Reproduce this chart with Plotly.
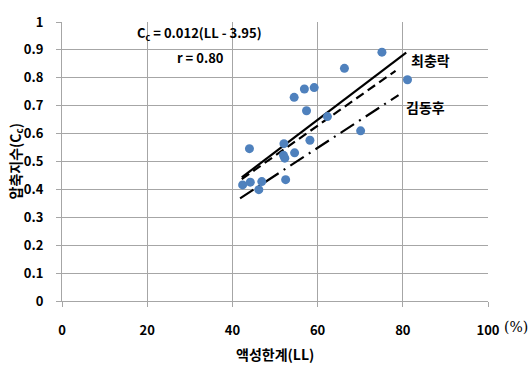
import plotly.graph_objects as go

# Liquid limit (LL, %) vs compression index (Cc)
ll = [75.1, 66.3, 81.1, 59.2, 56.9, 54.5, 57.4, 62.3, 70.1, 58.2,
      44.0, 52.1, 54.6, 52.0, 52.3, 52.5, 42.4, 44.2, 46.9, 46.2]
cc = [0.892, 0.834, 0.793, 0.765, 0.760, 0.730, 0.682, 0.661, 0.610, 0.576,
      0.546, 0.564, 0.531, 0.522, 0.512, 0.435, 0.416, 0.426, 0.428, 0.399]

# Correlation lines (endpoints)
line_choi_x = [42.2, 80.8]
line_choi_y = [0.443, 0.890]
line_fit_x = [42.2, 78.3]
line_fit_y = [0.437, 0.825]
line_kim_x = [41.8, 79.0]
line_kim_y = [0.368, 0.738]

x_ticks = [0, 20, 40, 60, 80, 100]
y_ticks = [0, 0.1, 0.2, 0.3, 0.4, 0.5, 0.6, 0.7, 0.8, 0.9, 1]
y_tick_text = ["0", "0.1", "0.2", "0.3", "0.4", "0.5", "0.6", "0.7", "0.8", "0.9", "1"]

FONT = "Noto Sans CJK KR"
GRID = "#a6a6a6"
L, R, T, B = 62, 44, 13, 73
W, H = 532, 374

fig = go.Figure()
fig.add_trace(go.Scatter(x=line_choi_x, y=line_choi_y, mode="lines",
                         line=dict(color="black", width=2.2, dash="solid"),
                         hoverinfo="skip"))
fig.add_trace(go.Scatter(x=line_fit_x, y=line_fit_y, mode="lines",
                         line=dict(color="black", width=2.2, dash="9px,5px"),
                         hoverinfo="skip"))
fig.add_trace(go.Scatter(x=line_kim_x, y=line_kim_y, mode="lines",
                         line=dict(color="black", width=2.2, dash="16px,6px,2px,6px"),
                         hoverinfo="skip"))
fig.add_trace(go.Scatter(x=ll, y=cc, mode="markers",
                         marker=dict(color="#4f81bd", size=9, line=dict(width=0))))

fig.update_layout(
    width=W, height=H,
    margin=dict(l=L, r=R, t=T, b=B),
    paper_bgcolor="white", plot_bgcolor="white",
    showlegend=False,
    font=dict(family=FONT, color="black", size=13),
    xaxis=dict(range=[0, 100], tickvals=x_ticks, ticktext=[str(v) for v in x_ticks],
               showgrid=True, gridcolor=GRID, gridwidth=1,
               showline=True, linecolor=GRID, linewidth=1,
               ticks="outside", ticklen=5, tickcolor=GRID,
               ticklabelstandoff=12,
               tickfont=dict(family=FONT, size=13, weight="bold"),
               zeroline=False, fixedrange=True),
    yaxis=dict(range=[0, 1], tickvals=y_ticks, ticktext=y_tick_text,
               showgrid=True, gridcolor=GRID, gridwidth=1,
               showline=True, linecolor=GRID, linewidth=1,
               ticks="outside", ticklen=5, tickcolor=GRID,
               ticklabelstandoff=10,
               tickfont=dict(family=FONT, size=13, weight="bold"),
               zeroline=False, fixedrange=True),
)


def pix(xp, yp):
    # page pixel position -> paper coordinates
    return (xp - L) / (W - L - R), 1 - (yp - T) / (H - T - B)


labels = [
    ("C<sub>c</sub> = 0.012(LL - 3.95)", 135, 25, 13, FONT, "bold"),
    ("r = 0.80", 175, 50, 13, FONT, "bold"),
    ("최충락", 409, 52, 14, FONT, "bold"),
    ("김동후", 404, 101, 14, FONT, "bold"),
    ("(%)", 502, 328, 14, "DejaVu Serif", "normal"),
]
for txt, xp, yp, size, fam, wt in labels:
    px, py = pix(xp, yp)
    fig.add_annotation(x=px, y=py, xref="paper", yref="paper", text=txt,
                       showarrow=False, xanchor="left", yanchor="middle",
                       font=dict(family=fam, size=size, color="black", weight=wt))

px, py = pix(275, 356)
fig.add_annotation(x=px, y=py, xref="paper", yref="paper", text="액성한계(LL)",
                   showarrow=False, xanchor="center", yanchor="middle",
                   font=dict(family=FONT, size=14, color="black", weight="bold"))
px, py = pix(15, 157)
fig.add_annotation(x=px, y=py, xref="paper", yref="paper", text="압축지수(C<sub>c</sub>)",
                   showarrow=False, xanchor="center", yanchor="middle", textangle=-90,
                   font=dict(family=FONT, size=14, color="black", weight="bold"))

fig.write_html("out.html")
